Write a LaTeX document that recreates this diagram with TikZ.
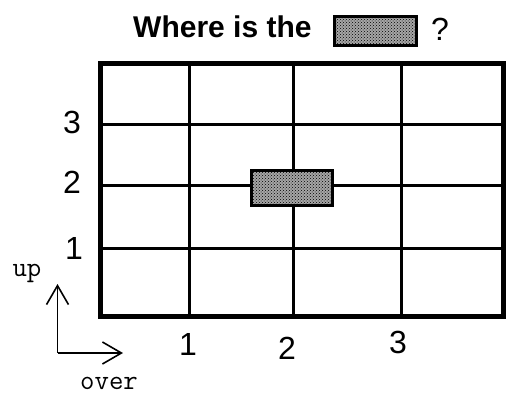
\documentclass[tikz,border=0pt]{standalone}
\usepackage{fontspec}
\setmainfont{Liberation Sans}
\usetikzlibrary{arrows.meta,patterns}
\tikzset{
  gridline/.style={line width=3pt},
  frameline/.style={line width=5pt},
  numlabel/.style={font=\fontsize{32}{32}\selectfont, inner sep=0pt},
  titletext/.style={font=\fontsize{30}{30}\selectfont\bfseries, inner sep=0pt, anchor=west},
  axislabel/.style={font=\ttfamily\fontsize{28}{28}\selectfont, inner sep=0pt},
  axisarrow/.style={line width=1.6pt, -{Straight Barb[length=19pt,width=22pt,line width=1.6pt]}},
  shaded/.style={draw=black, line width=3pt, fill=gray!70}
}
\begin{document}
\begin{tikzpicture}[x=1pt,y=-1pt]
\useasboundingbox (0,0) rectangle (506,402);
% title
\node[titletext] (title) at (133,27) {Where is the};
\draw[shaded] (334,16) rectangle (416,45);
\fill[pattern=crosshatch dots, pattern color=black] (334,16) rectangle (416,45);
\node[numlabel, anchor=west] (q) at (431,29) {?};
% grid
\coordinate (tl) at (100.5,63.5);
\coordinate (br) at (503,316);
\foreach \y in {124,185,248} \draw[gridline] (100,\y) -- (503,\y);
\foreach \x in {189,293,401} \draw[gridline] (\x,63) -- (\x,316);
\draw[frameline] (tl) rectangle (br);
% shaded rectangle
\draw[shaded] (251,170) rectangle (332,205);
\fill[pattern=crosshatch dots, pattern color=black] (251,170) rectangle (332,205);
% y labels
\node[numlabel] (y3) at (72,122) {3};
\node[numlabel] (y2) at (72,182) {2};
\node[numlabel] (y1) at (74,248) {1};
% x labels
\node[numlabel] (x1) at (188,344) {1};
\node[numlabel] (x2) at (287,348) {2};
\node[numlabel] (x3) at (398,342) {3};
% axes
\coordinate (origin) at (57.5,353);
\coordinate (uptip) at (57.5,284);
\coordinate (overtip) at (123,353);
\draw[axisarrow] (origin) -- (uptip);
\draw[axisarrow] (origin) -- (overtip);
\node[axislabel] (up) at (27,273) {up};
\node[axislabel] (over) at (109,383) {over};
\end{tikzpicture}
\end{document}
